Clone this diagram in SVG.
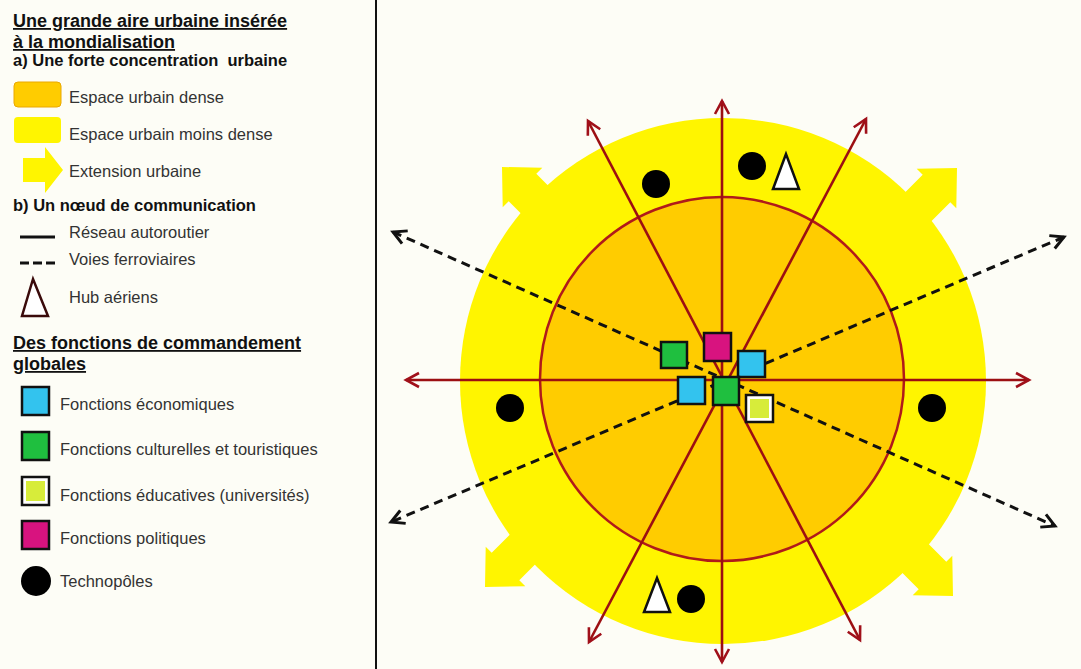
<svg xmlns="http://www.w3.org/2000/svg" width="1081" height="669" viewBox="0 0 1081 669">
<style>
.h{font-family:"Liberation Sans",Arial,sans-serif;font-weight:bold;fill:#111;white-space:pre;}
.hu{font-size:18px;text-decoration:underline;}
.hs{font-size:16.5px;}
.t{font-family:"Liberation Sans",Arial,sans-serif;font-size:16.5px;fill:#333;}
.road{stroke:#9c0f12;stroke-width:2.6;fill:none;marker-start:url(#ra);marker-end:url(#ra);}
.rail{stroke:#111;stroke-width:3;stroke-dasharray:9 6;fill:none;marker-start:url(#ka);marker-end:url(#ka);}
.sq{stroke:#111;stroke-width:2.5;}
.tri{fill:#fff;stroke:#111;stroke-width:2.5;stroke-linejoin:miter;}
.ext{fill:#fff500;}
</style>
<defs>
<marker id="ra" markerUnits="userSpaceOnUse" markerWidth="18" markerHeight="18" refX="15" refY="9" orient="auto-start-reverse">
<path d="M2,2 L15,9 L2,16" fill="none" stroke="#a0101a" stroke-width="2.6"/>
</marker>
<marker id="ka" markerUnits="userSpaceOnUse" markerWidth="18" markerHeight="18" refX="15" refY="9" orient="auto-start-reverse">
<path d="M2,2 L15,9 L2,16" fill="none" stroke="#111" stroke-width="3"/>
</marker>
<path id="extArrow" d="M0,0 L-29,-28 L-29,-19.5 L-95,-19.5 L-95,19.5 L-29,19.5 L-29,28 Z"/>
</defs>
<rect width="1081" height="669" fill="#fdfdf6"/>
<line x1="376" y1="0" x2="376" y2="669" stroke="#111" stroke-width="2"/>

<g id="legend">
<text class="h hu" x="13" y="27">Une grande aire urbaine insérée</text>
<text class="h hu" x="13" y="48">à la mondialisation</text>
<text class="h hs" x="13" y="66" xml:space="preserve">a) Une forte concentration  urbaine</text>
<rect x="14" y="82" width="47" height="25" rx="4" fill="#ffcc00" stroke="#eaa800" stroke-width="1"/>
<text class="t" x="69" y="103">Espace urbain dense</text>
<rect x="14" y="117" width="47" height="26" rx="4" fill="#fff500"/>
<text class="t" x="69" y="140">Espace urbain moins dense</text>
<polygon points="23,158 45,158 45,147 63,170 45,193 45,182 23,182" fill="#fff500"/>
<text class="t" x="69" y="177">Extension urbaine</text>
<text class="h hs" x="13" y="211">b) Un nœud de communication</text>
<line x1="20" y1="237" x2="55" y2="237" stroke="#111" stroke-width="3"/>
<text class="t" x="69" y="238">Réseau autoroutier</text>
<line x1="20" y1="263" x2="56" y2="263" stroke="#111" stroke-width="3" stroke-dasharray="9 4"/>
<text class="t" x="69" y="265">Voies ferroviaires</text>
<polygon class="tri" points="33,279 22,316 48,316" style="stroke:#3a0a0a"/>
<text class="t" x="69" y="303">Hub aériens</text>
<text class="h hu" x="13" y="349">Des fonctions de commandement</text>
<text class="h hu" x="13" y="370">globales</text>
<rect class="sq" x="22" y="387" width="27" height="28" fill="#33c3ee"/>
<text class="t" x="60" y="410">Fonctions économiques</text>
<rect class="sq" x="22" y="432" width="27" height="28" fill="#1fbf3f"/>
<text class="t" x="60" y="455">Fonctions culturelles et touristiques</text>
<rect class="sq" x="22" y="477" width="27" height="28" fill="#fff"/>
<rect x="26" y="481" width="19" height="20" fill="#d7ec3a"/>
<text class="t" x="60" y="501">Fonctions éducatives (universités)</text>
<rect class="sq" x="22" y="521" width="27" height="28" fill="#d8137f"/>
<text class="t" x="60" y="544">Fonctions politiques</text>
<circle cx="36" cy="581" r="15" fill="#000"/>
<text class="t" x="60" y="587">Technopôles</text>
</g>

<g id="urban-area">
<circle cx="723" cy="381" r="263" fill="#fff500"/>
<use href="#extArrow" class="ext" transform="translate(502,167) rotate(-135)"/>
<use href="#extArrow" class="ext" transform="translate(957,168) rotate(-45)"/>
<use href="#extArrow" class="ext" transform="translate(485,587) rotate(135)"/>
<use href="#extArrow" class="ext" transform="translate(953,596) rotate(45)"/>
<circle cx="722" cy="379" r="182" fill="#ffcc00" stroke="#b01a1a" stroke-width="2.5"/>
</g>

<g id="connectors">
<line class="road" x1="722" y1="101" x2="722" y2="662"/>
<line class="road" x1="406" y1="380" x2="1029" y2="380"/>
<line class="road" x1="588" y1="121" x2="860" y2="640"/>
<line class="road" x1="866" y1="119" x2="589" y2="642"/>
<line class="rail" x1="393" y1="232" x2="1055" y2="526"/>
<line class="rail" x1="1064" y1="237" x2="391" y2="522"/>
</g>

<g id="functions">
<rect class="sq" x="704" y="333" width="27" height="28" fill="#d8137f"/>
<rect class="sq" x="661" y="342" width="26" height="26" fill="#1fbf3f"/>
<rect class="sq" x="738" y="351" width="27" height="26" fill="#33c3ee"/>
<rect class="sq" x="678" y="377" width="27" height="27" fill="#33c3ee"/>
<rect class="sq" x="713" y="377" width="26" height="28" fill="#1fbf3f"/>
<rect class="sq" x="746" y="395" width="27" height="27" fill="#fff"/>
<rect x="750" y="399" width="19" height="19" fill="#d7ec3a"/>
</g>

<g id="technopoles">
<circle cx="656" cy="184" r="14" fill="#000"/>
<circle cx="752" cy="166" r="14" fill="#000"/>
<circle cx="510" cy="408" r="14" fill="#000"/>
<circle cx="932" cy="408" r="14" fill="#000"/>
<circle cx="691" cy="599" r="14" fill="#000"/>
</g>

<g id="hubs">
<polygon class="tri" points="786,154 773,189 799,189"/>
<polygon class="tri" points="657,578 644,612 670,612"/>
</g>
</svg>
